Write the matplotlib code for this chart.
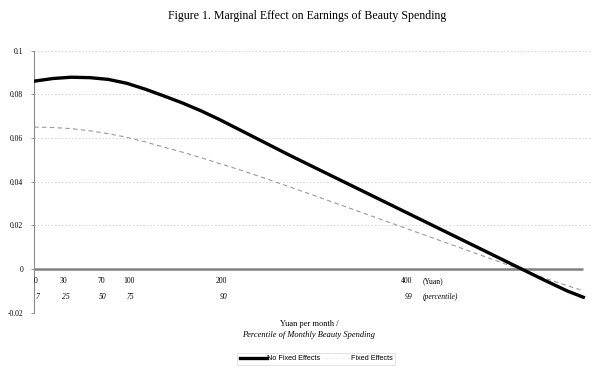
import matplotlib
matplotlib.use('Agg')
import matplotlib.pyplot as plt
from matplotlib.lines import Line2D

# yuan per month
spend = [0, 20, 40, 60, 80, 100, 120, 140, 160, 180, 200, 225, 250, 275, 300,
         325, 350, 375, 400, 425, 450, 475, 500, 525, 550, 575, 592]
no_fixed = [0.0860, 0.0872, 0.0878, 0.0876, 0.0868, 0.0850, 0.0823, 0.0792,
            0.0760, 0.0724, 0.0684, 0.0630, 0.0576, 0.0522, 0.0470, 0.0418,
            0.0366, 0.0314, 0.0262, 0.0210, 0.0158, 0.0106, 0.0054, 0.0002,
            -0.0050, -0.0100, -0.0128]
fixed = [0.0650, 0.0648, 0.0643, 0.0633, 0.0620, 0.0603, 0.0582, 0.0558,
         0.0535, 0.0510, 0.0483, 0.0450, 0.0414, 0.0377, 0.0340, 0.0302,
         0.0264, 0.0226, 0.0188, 0.0150, 0.0112, 0.0074, 0.0036, -0.0002,
         -0.0040, -0.0076, -0.0098]

yuan_ticks = [0, 30, 70, 100, 200, 400]
yuan_labels = ['0', '30', '70', '100', '200', '400']
pct_labels = ['7', '25', '50', '75', '90', '99']
y_ticks = [-0.02, 0, 0.02, 0.04, 0.06, 0.08, 0.1]
y_labels = ['-0.02', '0', '0.02', '0.04', '0.06', '0.08', '0.1']

SERIF = 'Liberation Serif'
SANS = 'Liberation Sans'

fig = plt.figure(figsize=(6.0, 3.73), dpi=100)
ax = fig.add_axes([0.057, 0.161, 0.9275, 0.7035])

# faint dotted gridlines
for v in y_ticks:
    if v != 0:
        ax.axhline(v, color='#d4d4d4', lw=0.7, ls=(0, (1.5, 2)), zorder=0)

ax.hlines(0, 0, spend[-1], color='#808080', lw=1.8, zorder=1)
ax.plot(spend, fixed, color='#9a9a9a', lw=0.8, ls=(0, (4, 3)), zorder=2)
ax.plot(spend, no_fixed, color='black', lw=2.4, zorder=3)

ax.set_xlim(0, 600)
ax.set_ylim(-0.02, 0.1)
ax.set_yticks(y_ticks)
ax.set_yticklabels(y_labels, family=SERIF, fontsize=5.5)
ax.set_xticks([])
ax.tick_params(axis='y', length=2, width=0.6, color='#888888', pad=6)
for s in ['top', 'right', 'bottom']:
    ax.spines[s].set_visible(False)
ax.spines['left'].set_color('#8a8a8a')
ax.spines['left'].set_linewidth(0.8)

# in-plot value labels
for x, lab, pl in zip(yuan_ticks, yuan_labels, pct_labels):
    ax.text(x + 2, -0.0055, lab, family=SERIF, fontsize=5.5, ha='center', va='center')
    ax.text(x + 4, -0.0128, pl, family=SERIF, fontsize=5.5, style='italic',
            ha='center', va='center')
ax.text(419, -0.0055, '(Yuan)', family=SERIF, fontsize=5.5, ha='left', va='center')
ax.text(419, -0.0128, '(percentile)', family=SERIF, fontsize=5.5, style='italic',
        ha='left', va='center')

fig.text(0.512, 0.957, 'Figure 1. Marginal Effect on Earnings of Beauty Spending',
         family=SERIF, fontsize=8.6, ha='center', va='center')
fig.text(0.515, 0.131, 'Yuan per month /', family=SERIF, fontsize=6,
         ha='center', va='center')
fig.text(0.515, 0.101, 'Percentile of Monthly Beauty Spending', family=SERIF,
         fontsize=6, style='italic', ha='center', va='center')

handles = [Line2D([], [], color='black', lw=2.4),
           Line2D([], [], color='#ececec', lw=0.6, ls=(0, (4, 3)))]
leg = fig.legend(handles, ['No Fixed Effects', 'Fixed Effects'], ncol=2,
                 loc='center', bbox_to_anchor=(0.527, 0.038),
                 prop={'family': SANS, 'size': 5.2}, handlelength=3.7,
                 handletextpad=0.0, columnspacing=0.6, frameon=True,
                 fancybox=False, borderpad=0.35)
leg.get_frame().set_edgecolor('#d0d0d0')
leg.get_frame().set_linewidth(0.5)

fig.savefig('out.png', dpi=100)
